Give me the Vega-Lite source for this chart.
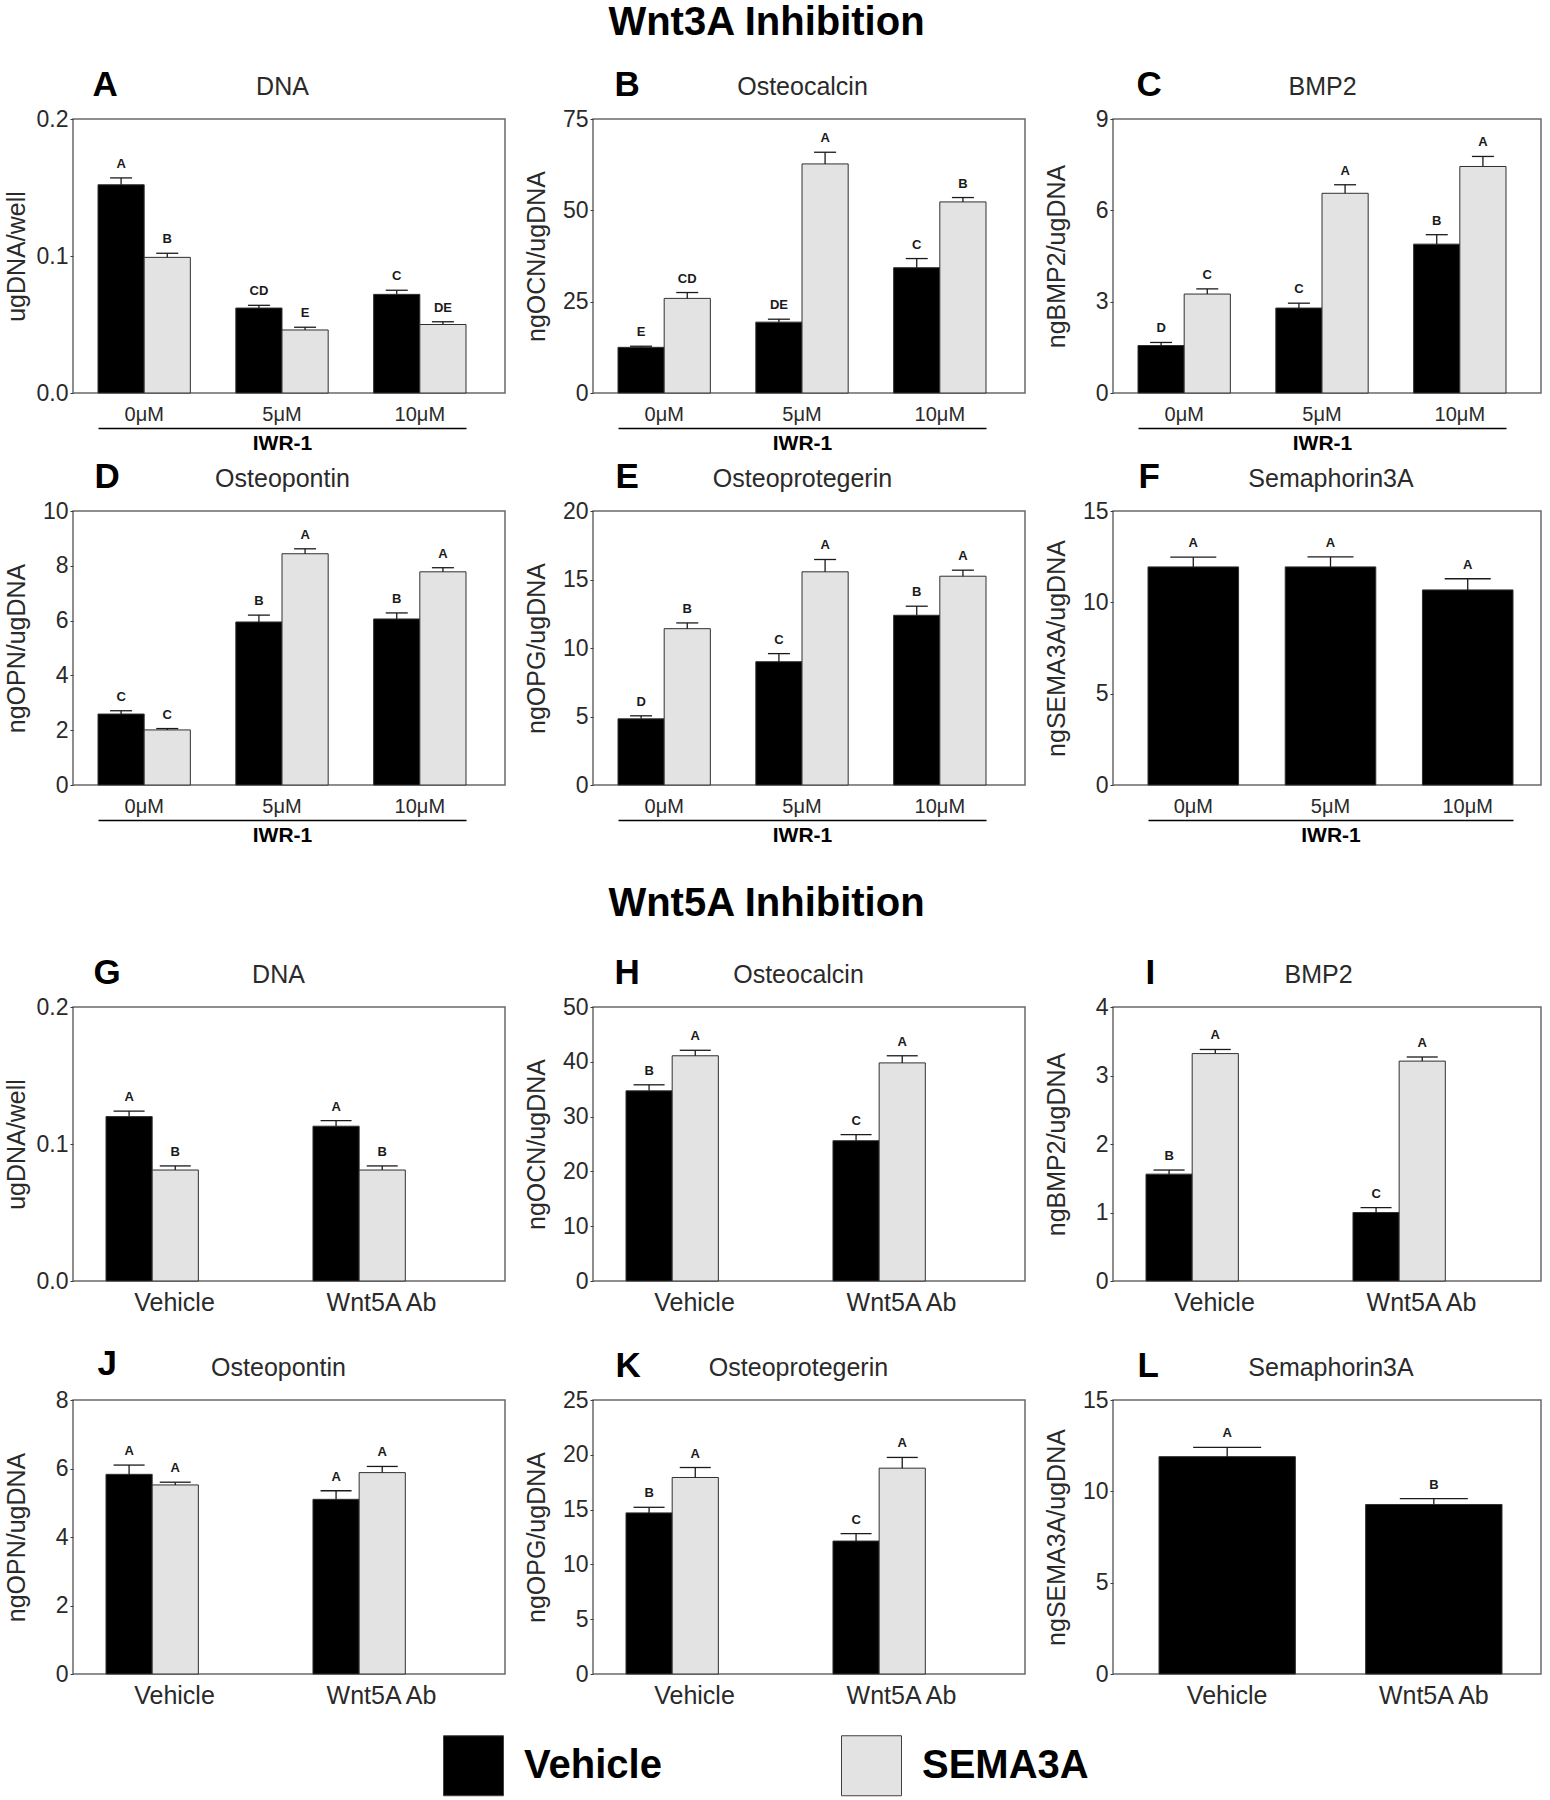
{
"$schema":"https://vega.github.io/schema/vega-lite/v6.json",
"background":"white",
"padding":{"left":3,"top":3,"right":0,"bottom":5},
"spacing":38,
"datasets":{
"A":[
{"group":"0μM","treatment":"Vehicle","mean":0.152,"upper":0.157,"letter":"A"},
{"group":"0μM","treatment":"SEMA3A","mean":0.099,"upper":0.102,"letter":"B"},
{"group":"5μM","treatment":"Vehicle","mean":0.062,"upper":0.064,"letter":"CD"},
{"group":"5μM","treatment":"SEMA3A","mean":0.046,"upper":0.048,"letter":"E"},
{"group":"10μM","treatment":"Vehicle","mean":0.072,"upper":0.075,"letter":"C"},
{"group":"10μM","treatment":"SEMA3A","mean":0.050,"upper":0.052,"letter":"DE"}],
"B":[
{"group":"0μM","treatment":"Vehicle","mean":12.5,"upper":12.8,"letter":"E"},
{"group":"0μM","treatment":"SEMA3A","mean":25.9,"upper":27.5,"letter":"CD"},
{"group":"5μM","treatment":"Vehicle","mean":19.4,"upper":20.2,"letter":"DE"},
{"group":"5μM","treatment":"SEMA3A","mean":62.7,"upper":65.9,"letter":"A"},
{"group":"10μM","treatment":"Vehicle","mean":34.3,"upper":36.8,"letter":"C"},
{"group":"10μM","treatment":"SEMA3A","mean":52.3,"upper":53.5,"letter":"B"}],
"C":[
{"group":"0μM","treatment":"Vehicle","mean":1.56,"upper":1.66,"letter":"D"},
{"group":"0μM","treatment":"SEMA3A","mean":3.25,"upper":3.42,"letter":"C"},
{"group":"5μM","treatment":"Vehicle","mean":2.79,"upper":2.95,"letter":"C"},
{"group":"5μM","treatment":"SEMA3A","mean":6.56,"upper":6.84,"letter":"A"},
{"group":"10μM","treatment":"Vehicle","mean":4.89,"upper":5.20,"letter":"B"},
{"group":"10μM","treatment":"SEMA3A","mean":7.44,"upper":7.77,"letter":"A"}],
"D":[
{"group":"0μM","treatment":"Vehicle","mean":2.59,"upper":2.71,"letter":"C"},
{"group":"0μM","treatment":"SEMA3A","mean":2.01,"upper":2.06,"letter":"C"},
{"group":"5μM","treatment":"Vehicle","mean":5.95,"upper":6.20,"letter":"B"},
{"group":"5μM","treatment":"SEMA3A","mean":8.44,"upper":8.62,"letter":"A"},
{"group":"10μM","treatment":"Vehicle","mean":6.06,"upper":6.28,"letter":"B"},
{"group":"10μM","treatment":"SEMA3A","mean":7.78,"upper":7.93,"letter":"A"}],
"E":[
{"group":"0μM","treatment":"Vehicle","mean":4.83,"upper":5.05,"letter":"D"},
{"group":"0μM","treatment":"SEMA3A","mean":11.41,"upper":11.83,"letter":"B"},
{"group":"5μM","treatment":"Vehicle","mean":9.00,"upper":9.59,"letter":"C"},
{"group":"5μM","treatment":"SEMA3A","mean":15.56,"upper":16.46,"letter":"A"},
{"group":"10μM","treatment":"Vehicle","mean":12.39,"upper":13.05,"letter":"B"},
{"group":"10μM","treatment":"SEMA3A","mean":15.24,"upper":15.68,"letter":"A"}],
"F":[
{"group":"0μM","treatment":"Vehicle","mean":11.94,"upper":12.47,"letter":"A"},
{"group":"5μM","treatment":"Vehicle","mean":11.94,"upper":12.49,"letter":"A"},
{"group":"10μM","treatment":"Vehicle","mean":10.68,"upper":11.29,"letter":"A"}],
"G":[
{"group":"Vehicle","treatment":"Vehicle","mean":0.120,"upper":0.124,"letter":"A"},
{"group":"Vehicle","treatment":"SEMA3A","mean":0.081,"upper":0.084,"letter":"B"},
{"group":"Wnt5A Ab","treatment":"Vehicle","mean":0.113,"upper":0.117,"letter":"A"},
{"group":"Wnt5A Ab","treatment":"SEMA3A","mean":0.081,"upper":0.084,"letter":"B"}],
"H":[
{"group":"Vehicle","treatment":"Vehicle","mean":34.7,"upper":35.8,"letter":"B"},
{"group":"Vehicle","treatment":"SEMA3A","mean":41.1,"upper":42.1,"letter":"A"},
{"group":"Wnt5A Ab","treatment":"Vehicle","mean":25.6,"upper":26.7,"letter":"C"},
{"group":"Wnt5A Ab","treatment":"SEMA3A","mean":39.8,"upper":41.1,"letter":"A"}],
"I":[
{"group":"Vehicle","treatment":"Vehicle","mean":1.56,"upper":1.62,"letter":"B"},
{"group":"Vehicle","treatment":"SEMA3A","mean":3.32,"upper":3.38,"letter":"A"},
{"group":"Wnt5A Ab","treatment":"Vehicle","mean":1.00,"upper":1.07,"letter":"C"},
{"group":"Wnt5A Ab","treatment":"SEMA3A","mean":3.21,"upper":3.27,"letter":"A"}],
"J":[
{"group":"Vehicle","treatment":"Vehicle","mean":5.83,"upper":6.10,"letter":"A"},
{"group":"Vehicle","treatment":"SEMA3A","mean":5.52,"upper":5.60,"letter":"A"},
{"group":"Wnt5A Ab","treatment":"Vehicle","mean":5.10,"upper":5.35,"letter":"A"},
{"group":"Wnt5A Ab","treatment":"SEMA3A","mean":5.88,"upper":6.06,"letter":"A"}],
"K":[
{"group":"Vehicle","treatment":"Vehicle","mean":14.70,"upper":15.21,"letter":"B"},
{"group":"Vehicle","treatment":"SEMA3A","mean":17.93,"upper":18.84,"letter":"A"},
{"group":"Wnt5A Ab","treatment":"Vehicle","mean":12.13,"upper":12.80,"letter":"C"},
{"group":"Wnt5A Ab","treatment":"SEMA3A","mean":18.78,"upper":19.76,"letter":"A"}],
"L":[
{"group":"Vehicle","treatment":"Vehicle","mean":11.90,"upper":12.41,"letter":"A"},
{"group":"Wnt5A Ab","treatment":"Vehicle","mean":9.28,"upper":9.60,"letter":"B"}]
},
"vconcat":[
{"title":{"text":"Wnt3A Inhibition","fontSize":40,"fontWeight":"bold","color":"#000000","anchor":"middle","offset":23,"dx":-6},
 "spacing":4,
 "vconcat":[
  {"hconcat":[
   {"width":432,"height":274,"data":{"name":"A"},
    "encoding":{
     "x":{"field":"group","type":"nominal","scale":{"domain":["0μM","5μM","10μM"],"range":[25,393],"paddingInner":0.33,"paddingOuter":0},"axis":{"orient":"bottom","title":"IWR-1","offset":35,"domain":true,"domainColor":"#000000","domainWidth":1.5,"ticks":false,"tickSize":0,"labelAngle":0,"labelFontSize":20,"labelColor":"#2a2a2a","labelBaseline":"alphabetic","labelPadding":-8,"titleFontSize":21,"titleFontWeight":"bold","titleColor":"#000000","titleBaseline":"alphabetic","titlePadding":21,"minExtent":0,"maxExtent":0}},
     "xOffset":{"field":"treatment","type":"nominal","scale":{"domain":["Vehicle","SEMA3A"],"paddingInner":0,"paddingOuter":0}},
     "y":{"field":"mean","type":"quantitative","scale":{"domain":[0,0.2],"nice":false},"axis":{"title":"ugDNA/well","values":[0,0.1,0.2],"format":".1f"}}},
    "layer":[
     {"mark":{"type":"bar","stroke":"#303030","strokeWidth":1},"encoding":{"color":{"field":"treatment","type":"nominal","scale":{"domain":["Vehicle","SEMA3A"],"range":["#000000","#e3e3e3"]},"legend":{"title":null,"orient":"none","legendX":370,"legendY":1616,"direction":"horizontal"}}}},
     {"mark":{"type":"rule","color":"#1a1a1a","strokeWidth":1.3},"encoding":{"x":{"field":"group","type":"nominal","scale":{"domain":["0μM","5μM","10μM"],"range":[25,393],"paddingInner":0.33,"paddingOuter":0},"axis":{"orient":"top","title":"DNA","labels":false,"ticks":false,"domain":false,"minExtent":0,"maxExtent":0,"titleFontSize":25,"titleFontWeight":"normal","titleColor":"#2a2a2a","titleBaseline":"alphabetic","titlePadding":25}},"y2":{"field":"upper"}}},
     {"mark":{"type":"tick","color":"#1a1a1a","thickness":1.3,"size":22,"opacity":1},"encoding":{"x":{"field":"group","type":"nominal","scale":{"domain":["0μM","5μM","10μM"],"range":[25,393],"paddingInner":0.33,"paddingOuter":0},"axis":{"orient":"top","title":"A","labels":false,"ticks":false,"domain":false,"minExtent":0,"maxExtent":0,"titleFontSize":35,"titleFontWeight":"bold","titleColor":"#000000","titleBaseline":"alphabetic","titleAlign":"left","titleX":19,"titleY":-24}},"y":{"field":"upper","type":"quantitative","scale":{"domain":[0,0.2],"nice":false},"axis":{"title":"ugDNA/well","values":[0,0.1,0.2],"format":".1f"}}}},
     {"mark":{"type":"text","dy":-10,"baseline":"alphabetic","fontSize":13,"fontWeight":"bold","color":"#1a1a1a"},"encoding":{"x":{"field":"group","type":"nominal","scale":{"domain":["0μM","5μM","10μM"],"range":[25,393],"paddingInner":0.33,"paddingOuter":0},"axis":null},"y":{"field":"upper","type":"quantitative","scale":{"domain":[0,0.2],"nice":false},"axis":{"title":"ugDNA/well","values":[0,0.1,0.2],"format":".1f"}},"text":{"field":"letter"}}}
    ],
    "resolve":{"axis":{"x":"independent","y":"shared"}}},
   {"width":432,"height":274,"data":{"name":"B"},
    "encoding":{
     "x":{"field":"group","type":"nominal","scale":{"domain":["0μM","5μM","10μM"],"range":[25,393],"paddingInner":0.33,"paddingOuter":0},"axis":{"orient":"bottom","title":"IWR-1","offset":35,"domain":true,"domainColor":"#000000","domainWidth":1.5,"ticks":false,"tickSize":0,"labelAngle":0,"labelFontSize":20,"labelColor":"#2a2a2a","labelBaseline":"alphabetic","labelPadding":-8,"titleFontSize":21,"titleFontWeight":"bold","titleColor":"#000000","titleBaseline":"alphabetic","titlePadding":21,"minExtent":0,"maxExtent":0}},
     "xOffset":{"field":"treatment","type":"nominal","scale":{"domain":["Vehicle","SEMA3A"],"paddingInner":0,"paddingOuter":0}},
     "y":{"field":"mean","type":"quantitative","scale":{"domain":[0,75],"nice":false},"axis":{"title":"ngOCN/ugDNA","values":[0,25,50,75],"format":"d"}}},
    "layer":[
     {"mark":{"type":"bar","stroke":"#303030","strokeWidth":1},"encoding":{"color":{"field":"treatment","type":"nominal","scale":{"domain":["Vehicle","SEMA3A"],"range":["#000000","#e3e3e3"]},"legend":{"title":null,"orient":"none","legendX":370,"legendY":1616,"direction":"horizontal"}}}},
     {"mark":{"type":"rule","color":"#1a1a1a","strokeWidth":1.3},"encoding":{"x":{"field":"group","type":"nominal","scale":{"domain":["0μM","5μM","10μM"],"range":[25,393],"paddingInner":0.33,"paddingOuter":0},"axis":{"orient":"top","title":"Osteocalcin","labels":false,"ticks":false,"domain":false,"minExtent":0,"maxExtent":0,"titleFontSize":25,"titleFontWeight":"normal","titleColor":"#2a2a2a","titleBaseline":"alphabetic","titlePadding":25}},"y2":{"field":"upper"}}},
     {"mark":{"type":"tick","color":"#1a1a1a","thickness":1.3,"size":22,"opacity":1},"encoding":{"x":{"field":"group","type":"nominal","scale":{"domain":["0μM","5μM","10μM"],"range":[25,393],"paddingInner":0.33,"paddingOuter":0},"axis":{"orient":"top","title":"B","labels":false,"ticks":false,"domain":false,"minExtent":0,"maxExtent":0,"titleFontSize":35,"titleFontWeight":"bold","titleColor":"#000000","titleBaseline":"alphabetic","titleAlign":"left","titleX":21,"titleY":-24}},"y":{"field":"upper","type":"quantitative","scale":{"domain":[0,75],"nice":false},"axis":{"title":"ngOCN/ugDNA","values":[0,25,50,75],"format":"d"}}}},
     {"mark":{"type":"text","dy":-10,"baseline":"alphabetic","fontSize":13,"fontWeight":"bold","color":"#1a1a1a"},"encoding":{"x":{"field":"group","type":"nominal","scale":{"domain":["0μM","5μM","10μM"],"range":[25,393],"paddingInner":0.33,"paddingOuter":0},"axis":null},"y":{"field":"upper","type":"quantitative","scale":{"domain":[0,75],"nice":false},"axis":{"title":"ngOCN/ugDNA","values":[0,25,50,75],"format":"d"}},"text":{"field":"letter"}}}
    ],
    "resolve":{"axis":{"x":"independent","y":"shared"}}},
   {"width":428,"height":274,"data":{"name":"C"},
    "encoding":{
     "x":{"field":"group","type":"nominal","scale":{"domain":["0μM","5μM","10μM"],"range":[25,393],"paddingInner":0.33,"paddingOuter":0},"axis":{"orient":"bottom","title":"IWR-1","offset":35,"domain":true,"domainColor":"#000000","domainWidth":1.5,"ticks":false,"tickSize":0,"labelAngle":0,"labelFontSize":20,"labelColor":"#2a2a2a","labelBaseline":"alphabetic","labelPadding":-8,"titleFontSize":21,"titleFontWeight":"bold","titleColor":"#000000","titleBaseline":"alphabetic","titlePadding":21,"minExtent":0,"maxExtent":0}},
     "xOffset":{"field":"treatment","type":"nominal","scale":{"domain":["Vehicle","SEMA3A"],"paddingInner":0,"paddingOuter":0}},
     "y":{"field":"mean","type":"quantitative","scale":{"domain":[0,9],"nice":false},"axis":{"title":"ngBMP2/ugDNA","values":[0,3,6,9],"format":"d"}}},
    "layer":[
     {"mark":{"type":"bar","stroke":"#303030","strokeWidth":1},"encoding":{"color":{"field":"treatment","type":"nominal","scale":{"domain":["Vehicle","SEMA3A"],"range":["#000000","#e3e3e3"]},"legend":{"title":null,"orient":"none","legendX":370,"legendY":1616,"direction":"horizontal"}}}},
     {"mark":{"type":"rule","color":"#1a1a1a","strokeWidth":1.3},"encoding":{"x":{"field":"group","type":"nominal","scale":{"domain":["0μM","5μM","10μM"],"range":[25,393],"paddingInner":0.33,"paddingOuter":0},"axis":{"orient":"top","title":"BMP2","labels":false,"ticks":false,"domain":false,"minExtent":0,"maxExtent":0,"titleFontSize":25,"titleFontWeight":"normal","titleColor":"#2a2a2a","titleBaseline":"alphabetic","titlePadding":25}},"y2":{"field":"upper"}}},
     {"mark":{"type":"tick","color":"#1a1a1a","thickness":1.3,"size":22,"opacity":1},"encoding":{"x":{"field":"group","type":"nominal","scale":{"domain":["0μM","5μM","10μM"],"range":[25,393],"paddingInner":0.33,"paddingOuter":0},"axis":{"orient":"top","title":"C","labels":false,"ticks":false,"domain":false,"minExtent":0,"maxExtent":0,"titleFontSize":35,"titleFontWeight":"bold","titleColor":"#000000","titleBaseline":"alphabetic","titleAlign":"left","titleX":23,"titleY":-24}},"y":{"field":"upper","type":"quantitative","scale":{"domain":[0,9],"nice":false},"axis":{"title":"ngBMP2/ugDNA","values":[0,3,6,9],"format":"d"}}}},
     {"mark":{"type":"text","dy":-10,"baseline":"alphabetic","fontSize":13,"fontWeight":"bold","color":"#1a1a1a"},"encoding":{"x":{"field":"group","type":"nominal","scale":{"domain":["0μM","5μM","10μM"],"range":[25,393],"paddingInner":0.33,"paddingOuter":0},"axis":null},"y":{"field":"upper","type":"quantitative","scale":{"domain":[0,9],"nice":false},"axis":{"title":"ngBMP2/ugDNA","values":[0,3,6,9],"format":"d"}},"text":{"field":"letter"}}}
    ],
    "resolve":{"axis":{"x":"independent","y":"shared"}}}
  ],"spacing":88,"bounds":"flush"},
  {"hconcat":[
   {"width":432,"height":274,"data":{"name":"D"},
    "encoding":{
     "x":{"field":"group","type":"nominal","scale":{"domain":["0μM","5μM","10μM"],"range":[25,393],"paddingInner":0.33,"paddingOuter":0},"axis":{"orient":"bottom","title":"IWR-1","offset":35,"domain":true,"domainColor":"#000000","domainWidth":1.5,"ticks":false,"tickSize":0,"labelAngle":0,"labelFontSize":20,"labelColor":"#2a2a2a","labelBaseline":"alphabetic","labelPadding":-8,"titleFontSize":21,"titleFontWeight":"bold","titleColor":"#000000","titleBaseline":"alphabetic","titlePadding":21,"minExtent":0,"maxExtent":0}},
     "xOffset":{"field":"treatment","type":"nominal","scale":{"domain":["Vehicle","SEMA3A"],"paddingInner":0,"paddingOuter":0}},
     "y":{"field":"mean","type":"quantitative","scale":{"domain":[0,10],"nice":false},"axis":{"title":"ngOPN/ugDNA","values":[0,2,4,6,8,10],"format":"d"}}},
    "layer":[
     {"mark":{"type":"bar","stroke":"#303030","strokeWidth":1},"encoding":{"color":{"field":"treatment","type":"nominal","scale":{"domain":["Vehicle","SEMA3A"],"range":["#000000","#e3e3e3"]},"legend":{"title":null,"orient":"none","legendX":370,"legendY":1616,"direction":"horizontal"}}}},
     {"mark":{"type":"rule","color":"#1a1a1a","strokeWidth":1.3},"encoding":{"x":{"field":"group","type":"nominal","scale":{"domain":["0μM","5μM","10μM"],"range":[25,393],"paddingInner":0.33,"paddingOuter":0},"axis":{"orient":"top","title":"Osteopontin","labels":false,"ticks":false,"domain":false,"minExtent":0,"maxExtent":0,"titleFontSize":25,"titleFontWeight":"normal","titleColor":"#2a2a2a","titleBaseline":"alphabetic","titlePadding":25}},"y2":{"field":"upper"}}},
     {"mark":{"type":"tick","color":"#1a1a1a","thickness":1.3,"size":22,"opacity":1},"encoding":{"x":{"field":"group","type":"nominal","scale":{"domain":["0μM","5μM","10μM"],"range":[25,393],"paddingInner":0.33,"paddingOuter":0},"axis":{"orient":"top","title":"D","labels":false,"ticks":false,"domain":false,"minExtent":0,"maxExtent":0,"titleFontSize":35,"titleFontWeight":"bold","titleColor":"#000000","titleBaseline":"alphabetic","titleAlign":"left","titleX":21,"titleY":-24}},"y":{"field":"upper","type":"quantitative","scale":{"domain":[0,10],"nice":false},"axis":{"title":"ngOPN/ugDNA","values":[0,2,4,6,8,10],"format":"d"}}}},
     {"mark":{"type":"text","dy":-10,"baseline":"alphabetic","fontSize":13,"fontWeight":"bold","color":"#1a1a1a"},"encoding":{"x":{"field":"group","type":"nominal","scale":{"domain":["0μM","5μM","10μM"],"range":[25,393],"paddingInner":0.33,"paddingOuter":0},"axis":null},"y":{"field":"upper","type":"quantitative","scale":{"domain":[0,10],"nice":false},"axis":{"title":"ngOPN/ugDNA","values":[0,2,4,6,8,10],"format":"d"}},"text":{"field":"letter"}}}
    ],
    "resolve":{"axis":{"x":"independent","y":"shared"}}},
   {"width":432,"height":274,"data":{"name":"E"},
    "encoding":{
     "x":{"field":"group","type":"nominal","scale":{"domain":["0μM","5μM","10μM"],"range":[25,393],"paddingInner":0.33,"paddingOuter":0},"axis":{"orient":"bottom","title":"IWR-1","offset":35,"domain":true,"domainColor":"#000000","domainWidth":1.5,"ticks":false,"tickSize":0,"labelAngle":0,"labelFontSize":20,"labelColor":"#2a2a2a","labelBaseline":"alphabetic","labelPadding":-8,"titleFontSize":21,"titleFontWeight":"bold","titleColor":"#000000","titleBaseline":"alphabetic","titlePadding":21,"minExtent":0,"maxExtent":0}},
     "xOffset":{"field":"treatment","type":"nominal","scale":{"domain":["Vehicle","SEMA3A"],"paddingInner":0,"paddingOuter":0}},
     "y":{"field":"mean","type":"quantitative","scale":{"domain":[0,20],"nice":false},"axis":{"title":"ngOPG/ugDNA","values":[0,5,10,15,20],"format":"d"}}},
    "layer":[
     {"mark":{"type":"bar","stroke":"#303030","strokeWidth":1},"encoding":{"color":{"field":"treatment","type":"nominal","scale":{"domain":["Vehicle","SEMA3A"],"range":["#000000","#e3e3e3"]},"legend":{"title":null,"orient":"none","legendX":370,"legendY":1616,"direction":"horizontal"}}}},
     {"mark":{"type":"rule","color":"#1a1a1a","strokeWidth":1.3},"encoding":{"x":{"field":"group","type":"nominal","scale":{"domain":["0μM","5μM","10μM"],"range":[25,393],"paddingInner":0.33,"paddingOuter":0},"axis":{"orient":"top","title":"Osteoprotegerin","labels":false,"ticks":false,"domain":false,"minExtent":0,"maxExtent":0,"titleFontSize":25,"titleFontWeight":"normal","titleColor":"#2a2a2a","titleBaseline":"alphabetic","titlePadding":25}},"y2":{"field":"upper"}}},
     {"mark":{"type":"tick","color":"#1a1a1a","thickness":1.3,"size":22,"opacity":1},"encoding":{"x":{"field":"group","type":"nominal","scale":{"domain":["0μM","5μM","10μM"],"range":[25,393],"paddingInner":0.33,"paddingOuter":0},"axis":{"orient":"top","title":"E","labels":false,"ticks":false,"domain":false,"minExtent":0,"maxExtent":0,"titleFontSize":35,"titleFontWeight":"bold","titleColor":"#000000","titleBaseline":"alphabetic","titleAlign":"left","titleX":22,"titleY":-24}},"y":{"field":"upper","type":"quantitative","scale":{"domain":[0,20],"nice":false},"axis":{"title":"ngOPG/ugDNA","values":[0,5,10,15,20],"format":"d"}}}},
     {"mark":{"type":"text","dy":-10,"baseline":"alphabetic","fontSize":13,"fontWeight":"bold","color":"#1a1a1a"},"encoding":{"x":{"field":"group","type":"nominal","scale":{"domain":["0μM","5μM","10μM"],"range":[25,393],"paddingInner":0.33,"paddingOuter":0},"axis":null},"y":{"field":"upper","type":"quantitative","scale":{"domain":[0,20],"nice":false},"axis":{"title":"ngOPG/ugDNA","values":[0,5,10,15,20],"format":"d"}},"text":{"field":"letter"}}}
    ],
    "resolve":{"axis":{"x":"independent","y":"shared"}}},
   {"width":428,"height":274,"data":{"name":"F"},
    "encoding":{
     "x":{"field":"group","type":"nominal","scale":{"domain":["0μM","5μM","10μM"],"range":[35,400],"paddingInner":0.34,"paddingOuter":0},"axis":{"orient":"bottom","title":"IWR-1","offset":35,"domain":true,"domainColor":"#000000","domainWidth":1.5,"ticks":false,"tickSize":0,"labelAngle":0,"labelFontSize":20,"labelColor":"#2a2a2a","labelBaseline":"alphabetic","labelPadding":-8,"titleFontSize":21,"titleFontWeight":"bold","titleColor":"#000000","titleBaseline":"alphabetic","titlePadding":21,"minExtent":0,"maxExtent":0}},
     "y":{"field":"mean","type":"quantitative","scale":{"domain":[0,15],"nice":false},"axis":{"title":"ngSEMA3A/ugDNA","values":[0,5,10,15],"format":"d"}}},
    "layer":[
     {"mark":{"type":"bar","stroke":"#303030","strokeWidth":1},"encoding":{"color":{"field":"treatment","type":"nominal","scale":{"domain":["Vehicle","SEMA3A"],"range":["#000000","#e3e3e3"]},"legend":{"title":null,"orient":"none","legendX":370,"legendY":1616,"direction":"horizontal"}}}},
     {"mark":{"type":"rule","color":"#1a1a1a","strokeWidth":1.3},"encoding":{"x":{"field":"group","type":"nominal","scale":{"domain":["0μM","5μM","10μM"],"range":[35,400],"paddingInner":0.34,"paddingOuter":0},"axis":{"orient":"top","title":"Semaphorin3A","labels":false,"ticks":false,"domain":false,"minExtent":0,"maxExtent":0,"titleFontSize":25,"titleFontWeight":"normal","titleColor":"#2a2a2a","titleBaseline":"alphabetic","titlePadding":25}},"y2":{"field":"upper"}}},
     {"mark":{"type":"tick","color":"#1a1a1a","thickness":1.3,"size":46,"opacity":1},"encoding":{"x":{"field":"group","type":"nominal","scale":{"domain":["0μM","5μM","10μM"],"range":[35,400],"paddingInner":0.34,"paddingOuter":0},"axis":{"orient":"top","title":"F","labels":false,"ticks":false,"domain":false,"minExtent":0,"maxExtent":0,"titleFontSize":35,"titleFontWeight":"bold","titleColor":"#000000","titleBaseline":"alphabetic","titleAlign":"left","titleX":25,"titleY":-24}},"y":{"field":"upper","type":"quantitative","scale":{"domain":[0,15],"nice":false},"axis":{"title":"ngSEMA3A/ugDNA","values":[0,5,10,15],"format":"d"}}}},
     {"mark":{"type":"text","dy":-10,"baseline":"alphabetic","fontSize":13,"fontWeight":"bold","color":"#1a1a1a"},"encoding":{"x":{"field":"group","type":"nominal","scale":{"domain":["0μM","5μM","10μM"],"range":[35,400],"paddingInner":0.34,"paddingOuter":0},"axis":null},"y":{"field":"upper","type":"quantitative","scale":{"domain":[0,15],"nice":false},"axis":{"title":"ngSEMA3A/ugDNA","values":[0,5,10,15],"format":"d"}},"text":{"field":"letter"}}}
    ],
    "resolve":{"axis":{"x":"independent","y":"shared"}}}
  ],"spacing":88,"bounds":"flush"}
 ]},
{"title":{"text":"Wnt5A Inhibition","fontSize":40,"fontWeight":"bold","color":"#000000","anchor":"middle","offset":30,"dx":-6},
 "spacing":29,
 "vconcat":[
  {"hconcat":[
   {"width":432,"height":274,"data":{"name":"G"},
    "encoding":{
     "x":{"field":"group","type":"nominal","scale":{"domain":["Vehicle","Wnt5A Ab"],"range":[33,377],"paddingInner":0.338,"paddingOuter":0},"axis":{"orient":"bottom","title":null,"domain":false,"ticks":false,"tickSize":0,"labelAngle":0,"labelFontSize":25,"labelColor":"#2a2a2a","labelBaseline":"alphabetic","labelPadding":29}},
     "xOffset":{"field":"treatment","type":"nominal","scale":{"domain":["Vehicle","SEMA3A"],"paddingInner":0,"paddingOuter":0}},
     "y":{"field":"mean","type":"quantitative","scale":{"domain":[0,0.2],"nice":false},"axis":{"title":"ugDNA/well","values":[0,0.1,0.2],"format":".1f"}}},
    "layer":[
     {"mark":{"type":"bar","stroke":"#303030","strokeWidth":1},"encoding":{"color":{"field":"treatment","type":"nominal","scale":{"domain":["Vehicle","SEMA3A"],"range":["#000000","#e3e3e3"]},"legend":{"title":null,"orient":"none","legendX":370,"legendY":1616,"direction":"horizontal"}}}},
     {"mark":{"type":"rule","color":"#1a1a1a","strokeWidth":1.3},"encoding":{"x":{"field":"group","type":"nominal","scale":{"domain":["Vehicle","Wnt5A Ab"],"range":[33,377],"paddingInner":0.338,"paddingOuter":0},"axis":{"orient":"top","title":"DNA","labels":false,"ticks":false,"domain":false,"minExtent":0,"maxExtent":0,"titleFontSize":25,"titleFontWeight":"normal","titleColor":"#2a2a2a","titleBaseline":"alphabetic","titlePadding":25}},"y2":{"field":"upper"}}},
     {"mark":{"type":"tick","color":"#1a1a1a","thickness":1.3,"size":31,"opacity":1},"encoding":{"x":{"field":"group","type":"nominal","scale":{"domain":["Vehicle","Wnt5A Ab"],"range":[33,377],"paddingInner":0.338,"paddingOuter":0},"axis":{"orient":"top","title":"G","labels":false,"ticks":false,"domain":false,"minExtent":0,"maxExtent":0,"titleFontSize":35,"titleFontWeight":"bold","titleColor":"#000000","titleBaseline":"alphabetic","titleAlign":"left","titleX":20,"titleY":-24}},"y":{"field":"upper","type":"quantitative","scale":{"domain":[0,0.2],"nice":false},"axis":{"title":"ugDNA/well","values":[0,0.1,0.2],"format":".1f"}}}},
     {"mark":{"type":"text","dy":-10,"baseline":"alphabetic","fontSize":13,"fontWeight":"bold","color":"#1a1a1a"},"encoding":{"x":{"field":"group","type":"nominal","scale":{"domain":["Vehicle","Wnt5A Ab"],"range":[33,377],"paddingInner":0.338,"paddingOuter":0},"axis":null},"y":{"field":"upper","type":"quantitative","scale":{"domain":[0,0.2],"nice":false},"axis":{"title":"ugDNA/well","values":[0,0.1,0.2],"format":".1f"}},"text":{"field":"letter"}}}
    ],
    "resolve":{"axis":{"x":"independent","y":"shared"}}},
   {"width":432,"height":274,"data":{"name":"H"},
    "encoding":{
     "x":{"field":"group","type":"nominal","scale":{"domain":["Vehicle","Wnt5A Ab"],"range":[33,377],"paddingInner":0.338,"paddingOuter":0},"axis":{"orient":"bottom","title":null,"domain":false,"ticks":false,"tickSize":0,"labelAngle":0,"labelFontSize":25,"labelColor":"#2a2a2a","labelBaseline":"alphabetic","labelPadding":29}},
     "xOffset":{"field":"treatment","type":"nominal","scale":{"domain":["Vehicle","SEMA3A"],"paddingInner":0,"paddingOuter":0}},
     "y":{"field":"mean","type":"quantitative","scale":{"domain":[0,50],"nice":false},"axis":{"title":"ngOCN/ugDNA","values":[0,10,20,30,40,50],"format":"d"}}},
    "layer":[
     {"mark":{"type":"bar","stroke":"#303030","strokeWidth":1},"encoding":{"color":{"field":"treatment","type":"nominal","scale":{"domain":["Vehicle","SEMA3A"],"range":["#000000","#e3e3e3"]},"legend":{"title":null,"orient":"none","legendX":370,"legendY":1616,"direction":"horizontal"}}}},
     {"mark":{"type":"rule","color":"#1a1a1a","strokeWidth":1.3},"encoding":{"x":{"field":"group","type":"nominal","scale":{"domain":["Vehicle","Wnt5A Ab"],"range":[33,377],"paddingInner":0.338,"paddingOuter":0},"axis":{"orient":"top","title":"Osteocalcin","labels":false,"ticks":false,"domain":false,"minExtent":0,"maxExtent":0,"titleFontSize":25,"titleFontWeight":"normal","titleColor":"#2a2a2a","titleBaseline":"alphabetic","titlePadding":25}},"y2":{"field":"upper"}}},
     {"mark":{"type":"tick","color":"#1a1a1a","thickness":1.3,"size":31,"opacity":1},"encoding":{"x":{"field":"group","type":"nominal","scale":{"domain":["Vehicle","Wnt5A Ab"],"range":[33,377],"paddingInner":0.338,"paddingOuter":0},"axis":{"orient":"top","title":"H","labels":false,"ticks":false,"domain":false,"minExtent":0,"maxExtent":0,"titleFontSize":35,"titleFontWeight":"bold","titleColor":"#000000","titleBaseline":"alphabetic","titleAlign":"left","titleX":21,"titleY":-24}},"y":{"field":"upper","type":"quantitative","scale":{"domain":[0,50],"nice":false},"axis":{"title":"ngOCN/ugDNA","values":[0,10,20,30,40,50],"format":"d"}}}},
     {"mark":{"type":"text","dy":-10,"baseline":"alphabetic","fontSize":13,"fontWeight":"bold","color":"#1a1a1a"},"encoding":{"x":{"field":"group","type":"nominal","scale":{"domain":["Vehicle","Wnt5A Ab"],"range":[33,377],"paddingInner":0.338,"paddingOuter":0},"axis":null},"y":{"field":"upper","type":"quantitative","scale":{"domain":[0,50],"nice":false},"axis":{"title":"ngOCN/ugDNA","values":[0,10,20,30,40,50],"format":"d"}},"text":{"field":"letter"}}}
    ],
    "resolve":{"axis":{"x":"independent","y":"shared"}}},
   {"width":428,"height":274,"data":{"name":"I"},
    "encoding":{
     "x":{"field":"group","type":"nominal","scale":{"domain":["Vehicle","Wnt5A Ab"],"range":[33,377],"paddingInner":0.338,"paddingOuter":0},"axis":{"orient":"bottom","title":null,"domain":false,"ticks":false,"tickSize":0,"labelAngle":0,"labelFontSize":25,"labelColor":"#2a2a2a","labelBaseline":"alphabetic","labelPadding":29}},
     "xOffset":{"field":"treatment","type":"nominal","scale":{"domain":["Vehicle","SEMA3A"],"paddingInner":0,"paddingOuter":0}},
     "y":{"field":"mean","type":"quantitative","scale":{"domain":[0,4],"nice":false},"axis":{"title":"ngBMP2/ugDNA","values":[0,1,2,3,4],"format":"d"}}},
    "layer":[
     {"mark":{"type":"bar","stroke":"#303030","strokeWidth":1},"encoding":{"color":{"field":"treatment","type":"nominal","scale":{"domain":["Vehicle","SEMA3A"],"range":["#000000","#e3e3e3"]},"legend":{"title":null,"orient":"none","legendX":370,"legendY":1616,"direction":"horizontal"}}}},
     {"mark":{"type":"rule","color":"#1a1a1a","strokeWidth":1.3},"encoding":{"x":{"field":"group","type":"nominal","scale":{"domain":["Vehicle","Wnt5A Ab"],"range":[33,377],"paddingInner":0.338,"paddingOuter":0},"axis":{"orient":"top","title":"BMP2","labels":false,"ticks":false,"domain":false,"minExtent":0,"maxExtent":0,"titleFontSize":25,"titleFontWeight":"normal","titleColor":"#2a2a2a","titleBaseline":"alphabetic","titlePadding":25}},"y2":{"field":"upper"}}},
     {"mark":{"type":"tick","color":"#1a1a1a","thickness":1.3,"size":31,"opacity":1},"encoding":{"x":{"field":"group","type":"nominal","scale":{"domain":["Vehicle","Wnt5A Ab"],"range":[33,377],"paddingInner":0.338,"paddingOuter":0},"axis":{"orient":"top","title":"I","labels":false,"ticks":false,"domain":false,"minExtent":0,"maxExtent":0,"titleFontSize":35,"titleFontWeight":"bold","titleColor":"#000000","titleBaseline":"alphabetic","titleAlign":"left","titleX":32,"titleY":-24}},"y":{"field":"upper","type":"quantitative","scale":{"domain":[0,4],"nice":false},"axis":{"title":"ngBMP2/ugDNA","values":[0,1,2,3,4],"format":"d"}}}},
     {"mark":{"type":"text","dy":-10,"baseline":"alphabetic","fontSize":13,"fontWeight":"bold","color":"#1a1a1a"},"encoding":{"x":{"field":"group","type":"nominal","scale":{"domain":["Vehicle","Wnt5A Ab"],"range":[33,377],"paddingInner":0.338,"paddingOuter":0},"axis":null},"y":{"field":"upper","type":"quantitative","scale":{"domain":[0,4],"nice":false},"axis":{"title":"ngBMP2/ugDNA","values":[0,1,2,3,4],"format":"d"}},"text":{"field":"letter"}}}
    ],
    "resolve":{"axis":{"x":"independent","y":"shared"}}}
  ],"spacing":88,"bounds":"flush"},
  {"hconcat":[
   {"width":432,"height":274,"data":{"name":"J"},
    "encoding":{
     "x":{"field":"group","type":"nominal","scale":{"domain":["Vehicle","Wnt5A Ab"],"range":[33,377],"paddingInner":0.338,"paddingOuter":0},"axis":{"orient":"bottom","title":null,"domain":false,"ticks":false,"tickSize":0,"labelAngle":0,"labelFontSize":25,"labelColor":"#2a2a2a","labelBaseline":"alphabetic","labelPadding":29}},
     "xOffset":{"field":"treatment","type":"nominal","scale":{"domain":["Vehicle","SEMA3A"],"paddingInner":0,"paddingOuter":0}},
     "y":{"field":"mean","type":"quantitative","scale":{"domain":[0,8],"nice":false},"axis":{"title":"ngOPN/ugDNA","values":[0,2,4,6,8],"format":"d"}}},
    "layer":[
     {"mark":{"type":"bar","stroke":"#303030","strokeWidth":1},"encoding":{"color":{"field":"treatment","type":"nominal","scale":{"domain":["Vehicle","SEMA3A"],"range":["#000000","#e3e3e3"]},"legend":{"title":null,"orient":"none","legendX":370,"legendY":1616,"direction":"horizontal"}}}},
     {"mark":{"type":"rule","color":"#1a1a1a","strokeWidth":1.3},"encoding":{"x":{"field":"group","type":"nominal","scale":{"domain":["Vehicle","Wnt5A Ab"],"range":[33,377],"paddingInner":0.338,"paddingOuter":0},"axis":{"orient":"top","title":"Osteopontin","labels":false,"ticks":false,"domain":false,"minExtent":0,"maxExtent":0,"titleFontSize":25,"titleFontWeight":"normal","titleColor":"#2a2a2a","titleBaseline":"alphabetic","titlePadding":25}},"y2":{"field":"upper"}}},
     {"mark":{"type":"tick","color":"#1a1a1a","thickness":1.3,"size":31,"opacity":1},"encoding":{"x":{"field":"group","type":"nominal","scale":{"domain":["Vehicle","Wnt5A Ab"],"range":[33,377],"paddingInner":0.338,"paddingOuter":0},"axis":{"orient":"top","title":"J","labels":false,"ticks":false,"domain":false,"minExtent":0,"maxExtent":0,"titleFontSize":35,"titleFontWeight":"bold","titleColor":"#000000","titleBaseline":"alphabetic","titleAlign":"left","titleX":24,"titleY":-26}},"y":{"field":"upper","type":"quantitative","scale":{"domain":[0,8],"nice":false},"axis":{"title":"ngOPN/ugDNA","values":[0,2,4,6,8],"format":"d"}}}},
     {"mark":{"type":"text","dy":-10,"baseline":"alphabetic","fontSize":13,"fontWeight":"bold","color":"#1a1a1a"},"encoding":{"x":{"field":"group","type":"nominal","scale":{"domain":["Vehicle","Wnt5A Ab"],"range":[33,377],"paddingInner":0.338,"paddingOuter":0},"axis":null},"y":{"field":"upper","type":"quantitative","scale":{"domain":[0,8],"nice":false},"axis":{"title":"ngOPN/ugDNA","values":[0,2,4,6,8],"format":"d"}},"text":{"field":"letter"}}}
    ],
    "resolve":{"axis":{"x":"independent","y":"shared"}}},
   {"width":432,"height":274,"data":{"name":"K"},
    "encoding":{
     "x":{"field":"group","type":"nominal","scale":{"domain":["Vehicle","Wnt5A Ab"],"range":[33,377],"paddingInner":0.338,"paddingOuter":0},"axis":{"orient":"bottom","title":null,"domain":false,"ticks":false,"tickSize":0,"labelAngle":0,"labelFontSize":25,"labelColor":"#2a2a2a","labelBaseline":"alphabetic","labelPadding":29}},
     "xOffset":{"field":"treatment","type":"nominal","scale":{"domain":["Vehicle","SEMA3A"],"paddingInner":0,"paddingOuter":0}},
     "y":{"field":"mean","type":"quantitative","scale":{"domain":[0,25],"nice":false},"axis":{"title":"ngOPG/ugDNA","values":[0,5,10,15,20,25],"format":"d"}}},
    "layer":[
     {"mark":{"type":"bar","stroke":"#303030","strokeWidth":1},"encoding":{"color":{"field":"treatment","type":"nominal","scale":{"domain":["Vehicle","SEMA3A"],"range":["#000000","#e3e3e3"]},"legend":{"title":null,"orient":"none","legendX":370,"legendY":1616,"direction":"horizontal"}}}},
     {"mark":{"type":"rule","color":"#1a1a1a","strokeWidth":1.3},"encoding":{"x":{"field":"group","type":"nominal","scale":{"domain":["Vehicle","Wnt5A Ab"],"range":[33,377],"paddingInner":0.338,"paddingOuter":0},"axis":{"orient":"top","title":"Osteoprotegerin","labels":false,"ticks":false,"domain":false,"minExtent":0,"maxExtent":0,"titleFontSize":25,"titleFontWeight":"normal","titleColor":"#2a2a2a","titleBaseline":"alphabetic","titlePadding":25}},"y2":{"field":"upper"}}},
     {"mark":{"type":"tick","color":"#1a1a1a","thickness":1.3,"size":31,"opacity":1},"encoding":{"x":{"field":"group","type":"nominal","scale":{"domain":["Vehicle","Wnt5A Ab"],"range":[33,377],"paddingInner":0.338,"paddingOuter":0},"axis":{"orient":"top","title":"K","labels":false,"ticks":false,"domain":false,"minExtent":0,"maxExtent":0,"titleFontSize":35,"titleFontWeight":"bold","titleColor":"#000000","titleBaseline":"alphabetic","titleAlign":"left","titleX":22,"titleY":-24}},"y":{"field":"upper","type":"quantitative","scale":{"domain":[0,25],"nice":false},"axis":{"title":"ngOPG/ugDNA","values":[0,5,10,15,20,25],"format":"d"}}}},
     {"mark":{"type":"text","dy":-10,"baseline":"alphabetic","fontSize":13,"fontWeight":"bold","color":"#1a1a1a"},"encoding":{"x":{"field":"group","type":"nominal","scale":{"domain":["Vehicle","Wnt5A Ab"],"range":[33,377],"paddingInner":0.338,"paddingOuter":0},"axis":null},"y":{"field":"upper","type":"quantitative","scale":{"domain":[0,25],"nice":false},"axis":{"title":"ngOPG/ugDNA","values":[0,5,10,15,20,25],"format":"d"}},"text":{"field":"letter"}}}
    ],
    "resolve":{"axis":{"x":"independent","y":"shared"}}},
   {"width":428,"height":274,"data":{"name":"L"},
    "encoding":{
     "x":{"field":"group","type":"nominal","scale":{"domain":["Vehicle","Wnt5A Ab"],"range":[46,389],"paddingInner":0.34,"paddingOuter":0},"axis":{"orient":"bottom","title":null,"domain":false,"ticks":false,"tickSize":0,"labelAngle":0,"labelFontSize":25,"labelColor":"#2a2a2a","labelBaseline":"alphabetic","labelPadding":29}},
     "y":{"field":"mean","type":"quantitative","scale":{"domain":[0,15],"nice":false},"axis":{"title":"ngSEMA3A/ugDNA","values":[0,5,10,15],"format":"d"}}},
    "layer":[
     {"mark":{"type":"bar","stroke":"#303030","strokeWidth":1},"encoding":{"color":{"field":"treatment","type":"nominal","scale":{"domain":["Vehicle","SEMA3A"],"range":["#000000","#e3e3e3"]},"legend":{"title":null,"orient":"none","legendX":370,"legendY":1616,"direction":"horizontal"}}}},
     {"mark":{"type":"rule","color":"#1a1a1a","strokeWidth":1.3},"encoding":{"x":{"field":"group","type":"nominal","scale":{"domain":["Vehicle","Wnt5A Ab"],"range":[46,389],"paddingInner":0.34,"paddingOuter":0},"axis":{"orient":"top","title":"Semaphorin3A","labels":false,"ticks":false,"domain":false,"minExtent":0,"maxExtent":0,"titleFontSize":25,"titleFontWeight":"normal","titleColor":"#2a2a2a","titleBaseline":"alphabetic","titlePadding":25}},"y2":{"field":"upper"}}},
     {"mark":{"type":"tick","color":"#1a1a1a","thickness":1.3,"size":68,"opacity":1},"encoding":{"x":{"field":"group","type":"nominal","scale":{"domain":["Vehicle","Wnt5A Ab"],"range":[46,389],"paddingInner":0.34,"paddingOuter":0},"axis":{"orient":"top","title":"L","labels":false,"ticks":false,"domain":false,"minExtent":0,"maxExtent":0,"titleFontSize":35,"titleFontWeight":"bold","titleColor":"#000000","titleBaseline":"alphabetic","titleAlign":"left","titleX":24,"titleY":-24}},"y":{"field":"upper","type":"quantitative","scale":{"domain":[0,15],"nice":false},"axis":{"title":"ngSEMA3A/ugDNA","values":[0,5,10,15],"format":"d"}}}},
     {"mark":{"type":"text","dy":-10,"baseline":"alphabetic","fontSize":13,"fontWeight":"bold","color":"#1a1a1a"},"encoding":{"x":{"field":"group","type":"nominal","scale":{"domain":["Vehicle","Wnt5A Ab"],"range":[46,389],"paddingInner":0.34,"paddingOuter":0},"axis":null},"y":{"field":"upper","type":"quantitative","scale":{"domain":[0,15],"nice":false},"axis":{"title":"ngSEMA3A/ugDNA","values":[0,5,10,15],"format":"d"}},"text":{"field":"letter"}}}
    ],
    "resolve":{"axis":{"x":"independent","y":"shared"}}}
  ],"spacing":88,"bounds":"flush"}
 ]}
],
"config":{
 "font":"Liberation Sans",
 "view":{"stroke":"#6a6a6a","strokeWidth":1.5},
 "axis":{"grid":false,"labelFont":"Liberation Sans","titleFont":"Liberation Sans"},
 "axisY":{"domain":false,"ticks":true,"tickSize":3,"tickColor":"#3a3a3a","tickWidth":1,"labelFontSize":23,"labelPadding":2,"labelColor":"#2a2a2a","titleFontSize":25,"titleFontWeight":"normal","titleColor":"#2a2a2a","titlePadding":8,"minExtent":36,"maxExtent":36},
 "legend":{"symbolType":"square","symbolSize":3600,"symbolStrokeColor":"#404040","symbolStrokeWidth":1,"labelFontSize":40,"labelFontWeight":"bold","labelColor":"#000000","labelOffset":20,"columnPadding":177,"labelLimit":600,"labelFont":"Liberation Sans"},
 "title":{"font":"Liberation Sans"}
}
}
